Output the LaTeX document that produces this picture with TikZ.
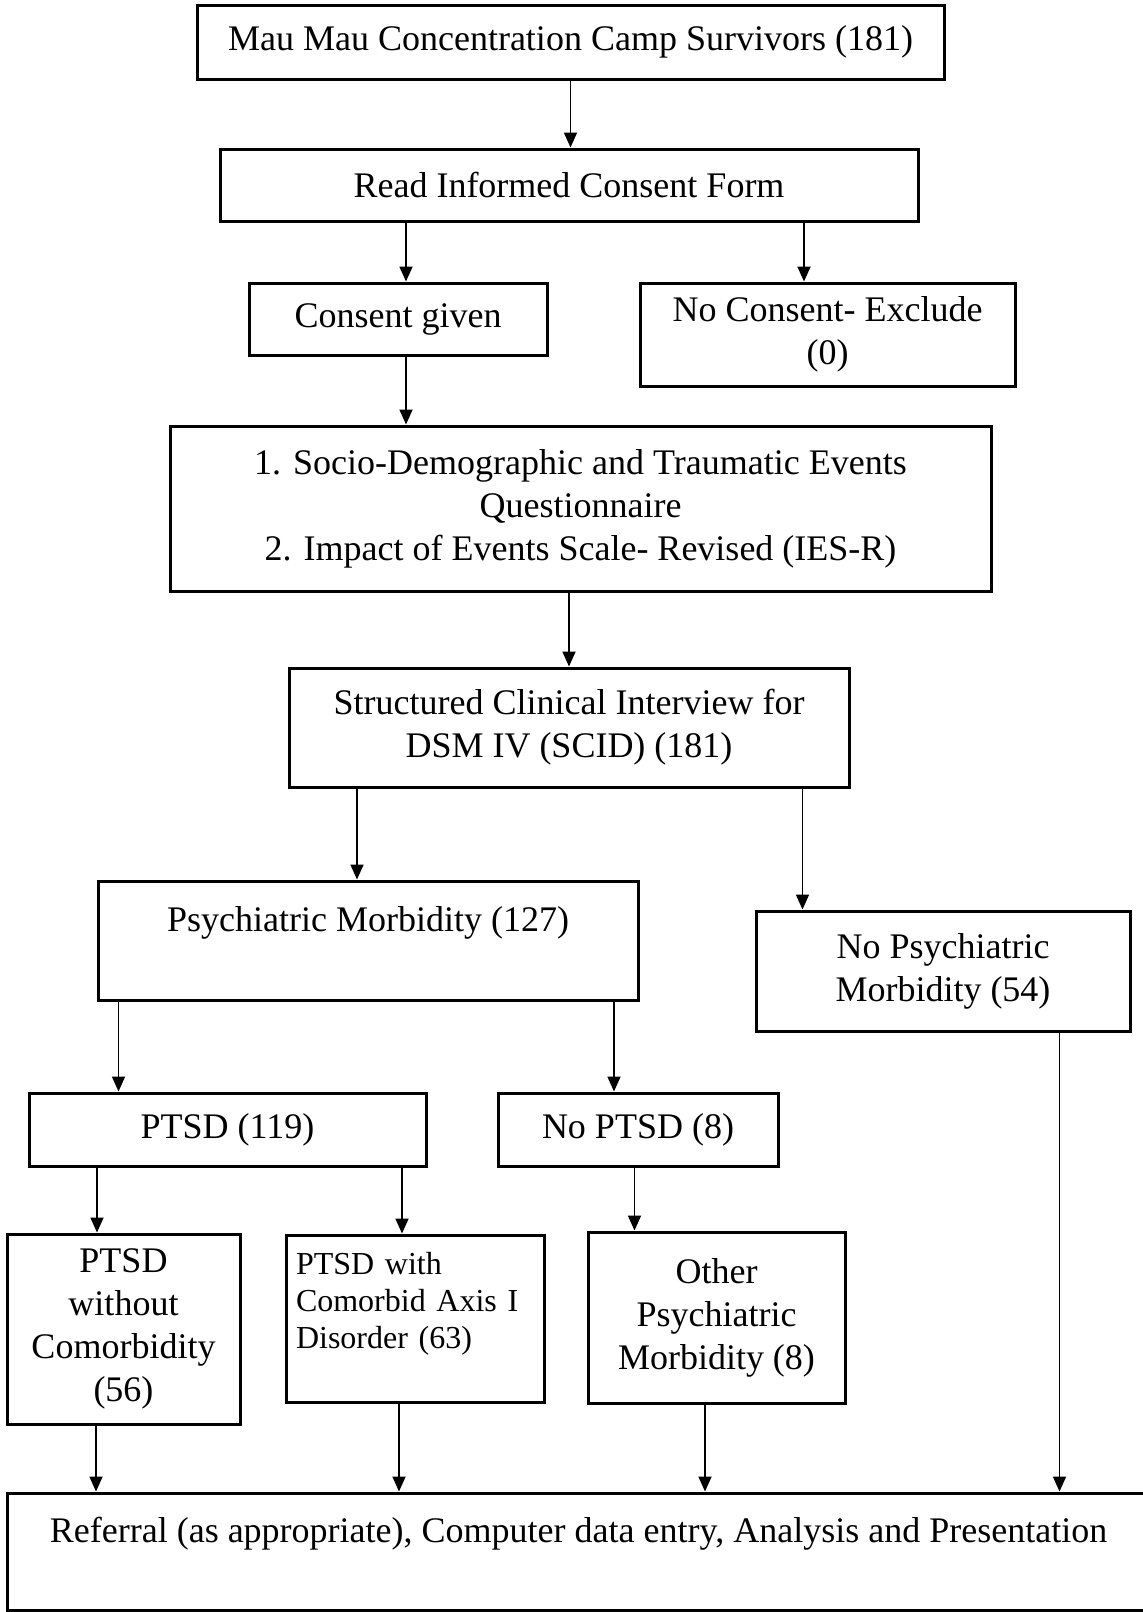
\documentclass[tikz,border=0pt]{standalone}
\usepackage{fontspec}
\setmainfont{Liberation Serif}
\usetikzlibrary{arrows.meta}
\newcommand*{\boxfont}{\fontsize{18}{21.5}\selectfont}
\newcommand*{\smallboxfont}{\fontsize{16}{18.5}\selectfont}

\begin{document}
\begin{tikzpicture}[x=0.5pt, y=-0.5pt,
    box/.style = {draw, line width=1.5pt, align=center, inner sep=2pt, font=\boxfont},
    arr/.style = {-{Triangle[length=7.5pt,width=6.5pt]}, line width=0.9pt}]
  \useasboundingbox (0,0) rectangle (1143,1612);

  % enrolment
  \node[box, minimum width=373.5pt, minimum height=37pt] (camp) at (570.5,42)
    {Mau Mau Concentration Camp Survivors (181)};
  \node[box, minimum width=349pt, minimum height=36pt] (consentform) at (569,185)
    {Read Informed Consent Form};
  \node[box, minimum width=149pt, minimum height=36pt] (consent) at (398,319)
    {Consent given};
  \node[box, minimum width=187.5pt, minimum height=51.5pt] (noconsent) at (827.5,334.5)
    {No Consent- Exclude\\(0)};
  \node[box, minimum width=410.5pt, minimum height=82.5pt] (questionnaire) at (580.5,508.5)
    {1. Socio-Demographic and Traumatic Events\\Questionnaire\\2. Impact of Events Scale- Revised (IES-R)};
  \node[box, minimum width=280pt, minimum height=59.5pt] (scid) at (569,727.5)
    {Structured Clinical Interview for\\DSM IV (SCID) (181)};

  % diagnoses
  \node[box, minimum width=270pt, minimum height=59.5pt] (morbidity) at (368,940.5)
    {Psychiatric Morbidity (127)\\ \mbox{}};
  \node[box, minimum width=187pt, minimum height=60pt] (nomorbidity) at (943,971)
    {No Psychiatric\\Morbidity (54)};
  \node[box, minimum width=198.5pt, minimum height=36.5pt] (ptsd) at (227.5,1129.5)
    {PTSD (119)};
  \node[box, minimum width=140pt, minimum height=36.5pt] (noptsd) at (638,1129.5)
    {No PTSD (8)};
  \node[box, minimum width=116.5pt, minimum height=95pt] (ptsdonly) at (123.5,1329)
    {PTSD\\without\\Comorbidity\\(56)};
  \node[box, align=left, font=\smallboxfont, inner xsep=5pt, text width=119pt,
    minimum height=83.5pt] (comorbid) at (415,1318.5)
    {PTSD with\\Comorbid Axis I\\Disorder (63)\\ \mbox{}};
  \node[box, minimum width=128.5pt, minimum height=85.5pt] (othermorb) at (716.5,1317.5)
    {Other\\Psychiatric\\Morbidity (8)};
  \node[box, minimum width=571.5pt, minimum height=58.5pt] (referral) at (578.5,1551.5)
    {Referral (as appropriate), Computer data entry, Analysis and Presentation\\ \mbox{}};

  % connectors
  \draw[arr] (camp.south) -- (camp.south |- consentform.north);
  \draw[arr] ([xshift=4pt]consent.north |- consentform.south) -- ([xshift=4pt]consent.north);
  \draw[arr] ([xshift=-11.75pt]noconsent.north |- consentform.south) -- ([xshift=-11.75pt]noconsent.north);
  \draw[arr] ([xshift=4pt]consent.south) -- ([xshift=4pt]consent.south |- questionnaire.north);
  \draw[arr] (scid.north |- questionnaire.south) -- (scid.north);
  \draw[arr] ([xshift=-5.5pt]morbidity.north |- scid.south) -- ([xshift=-5.5pt]morbidity.north);
  \draw[arr] ([xshift=24pt]nomorbidity.north west |- scid.south) -- ([xshift=24pt]nomorbidity.north west);
  \draw[arr] ([xshift=11pt]morbidity.south west) -- ([xshift=11pt]morbidity.south west |- ptsd.north);
  \draw[arr] ([xshift=-12pt]noptsd.north |- morbidity.south) -- ([xshift=-12pt]noptsd.north);
  \draw[arr] ([xshift=-13.25pt]ptsdonly.north |- ptsd.south) -- ([xshift=-13.25pt]ptsdonly.north);
  \draw[arr] ([xshift=-6.5pt]comorbid.north |- ptsd.south) -- ([xshift=-6.5pt]comorbid.north);
  \draw[arr] ([xshift=24pt]othermorb.north west |- noptsd.south) -- ([xshift=24pt]othermorb.north west);
  \draw[arr] ([xshift=-13.75pt]ptsdonly.south) -- ([xshift=-13.75pt]ptsdonly.south |- referral.north);
  \draw[arr] ([xshift=-8pt]comorbid.south) -- ([xshift=-8pt]comorbid.south |- referral.north);
  \draw[arr] ([xshift=-5.75pt]othermorb.south) -- ([xshift=-5.75pt]othermorb.south |- referral.north);
  \draw[arr] ([xshift=-36pt]nomorbidity.south east) -- ([xshift=-36pt]nomorbidity.south east |- referral.north);
\end{tikzpicture}
\end{document}
